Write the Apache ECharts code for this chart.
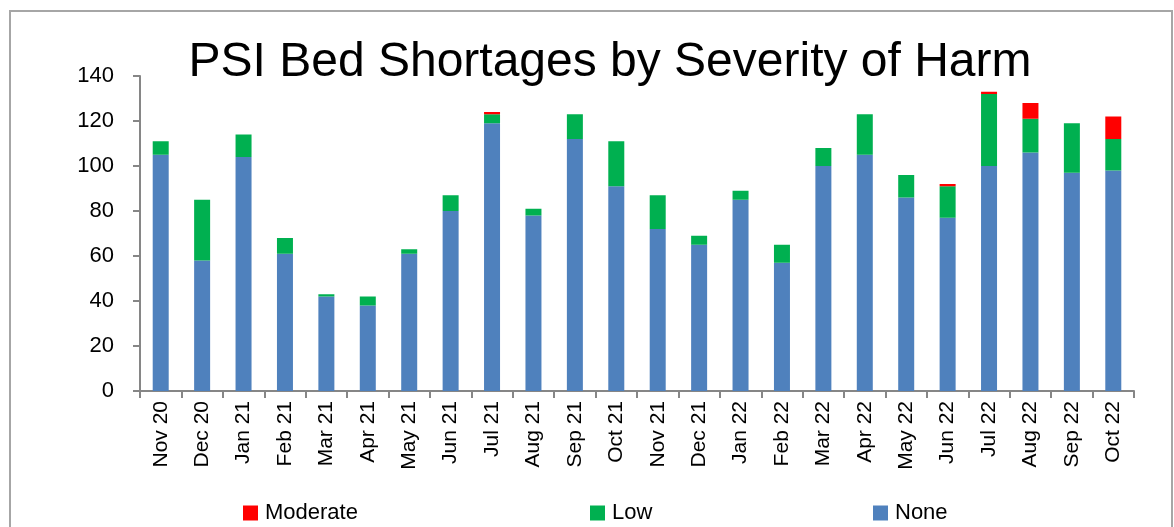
<!DOCTYPE html>
<html>
<head>
<meta charset="utf-8">
<script src="https://cdn.jsdelivr.net/npm/echarts@6/dist/echarts.min.js"></script>
<style>
  html, body { margin: 0; padding: 0; background: #ffffff; }
  #main { width: 1174px; height: 527px; }
</style>
</head>
<body>
<div id="main"></div>
<script>
// months on the x axis
var months = ['Nov 20', 'Dec 20', 'Jan 21', 'Feb 21', 'Mar 21', 'Apr 21', 'May 21', 'Jun 21',
  'Jul 21', 'Aug 21', 'Sep 21', 'Oct 21', 'Nov 21', 'Dec 21', 'Jan 22', 'Feb 22', 'Mar 22',
  'Apr 22', 'May 22', 'Jun 22', 'Jul 22', 'Aug 22', 'Sep 22', 'Oct 22'];

// stacked values per severity
var noneVals = [105, 58, 104, 61, 42, 38, 61, 80, 119, 78, 112, 91, 72, 65, 85, 57, 100, 105, 86, 77, 100, 106, 97, 98];
var lowVals = [6, 27, 10, 7, 1, 4, 2, 7, 4, 3, 11, 20, 15, 4, 4, 8, 8, 18, 10, 14, 32, 15, 22, 14];
var moderateVals = [0, 0, 0, 0, 0, 0, 0, 0, 1, 0, 0, 0, 0, 0, 0, 0, 0, 0, 0, 1, 1, 7, 0, 10];

var yTicks = [0, 20, 40, 60, 80, 100, 120, 140];

var fontFam = 'Liberation Sans, Arial, sans-serif';
var axisGrey = '#868686';

var myChart = echarts.init(document.getElementById('main'));

var option = {
    animation: false,
    title: {
        text: 'PSI Bed Shortages by Severity of Harm',
        left: 610,
        top: 39,
        textAlign: 'center',
        padding: 0,
        textStyle: {
            fontFamily: fontFam,
            fontSize: 48,
            fontWeight: 'normal',
            color: '#000000'
        }
    },
    legend: [
        { data: ['Moderate'], left: 243, top: 502 },
        { data: ['Low'], left: 590, top: 502 },
        { data: ['None'], left: 873, top: 502 }
    ].map(function (l) {
        l.itemWidth = 15;
        l.itemHeight = 15;
        l.icon = 'rect';
        l.padding = 0;
        l.textStyle = { fontFamily: fontFam, fontSize: 22, color: '#000000', padding: [0, 0, 0, 2] };
        return l;
    }),
    grid: {
        left: 140,
        right: 40,
        top: 76,
        bottom: 136
    },
    xAxis: {
        type: 'category',
        data: months,
        axisLine: { lineStyle: { color: axisGrey, width: 2 } },
        axisTick: { show: true, length: 7, lineStyle: { color: axisGrey, width: 2 } },
        axisLabel: {
            rotate: 90,
            interval: 0,
            margin: 10,
            fontFamily: fontFam,
            fontSize: 21,
            color: '#000000'
        }
    },
    yAxis: {
        type: 'value',
        min: yTicks[0],
        max: yTicks[yTicks.length - 1],
        interval: 20,
        splitLine: { show: false },
        axisLine: { show: true, lineStyle: { color: axisGrey, width: 2 } },
        axisTick: { show: true, length: 7, lineStyle: { color: axisGrey, width: 2 } },
        axisLabel: {
            margin: 26,
            fontFamily: fontFam,
            fontSize: 22,
            color: '#000000'
        }
    },
    series: [
        {
            name: 'None',
            type: 'bar',
            stack: 'harm',
            barWidth: 16,
            data: noneVals,
            itemStyle: { color: '#4F81BD' }
        },
        {
            name: 'Low',
            type: 'bar',
            stack: 'harm',
            barWidth: 16,
            data: lowVals,
            itemStyle: { color: '#00B050' }
        },
        {
            name: 'Moderate',
            type: 'bar',
            stack: 'harm',
            barWidth: 16,
            data: moderateVals,
            itemStyle: { color: '#FF0000' }
        }
    ],
    // chart frame
    graphic: [
        {
            type: 'rect',
            silent: true,
            shape: { x: 10, y: 11, width: 1162, height: 540 },
            style: { fill: 'none', stroke: '#a6a6a6', lineWidth: 2 }
        }
    ]
};

myChart.setOption(option);
</script>
</body>
</html>
